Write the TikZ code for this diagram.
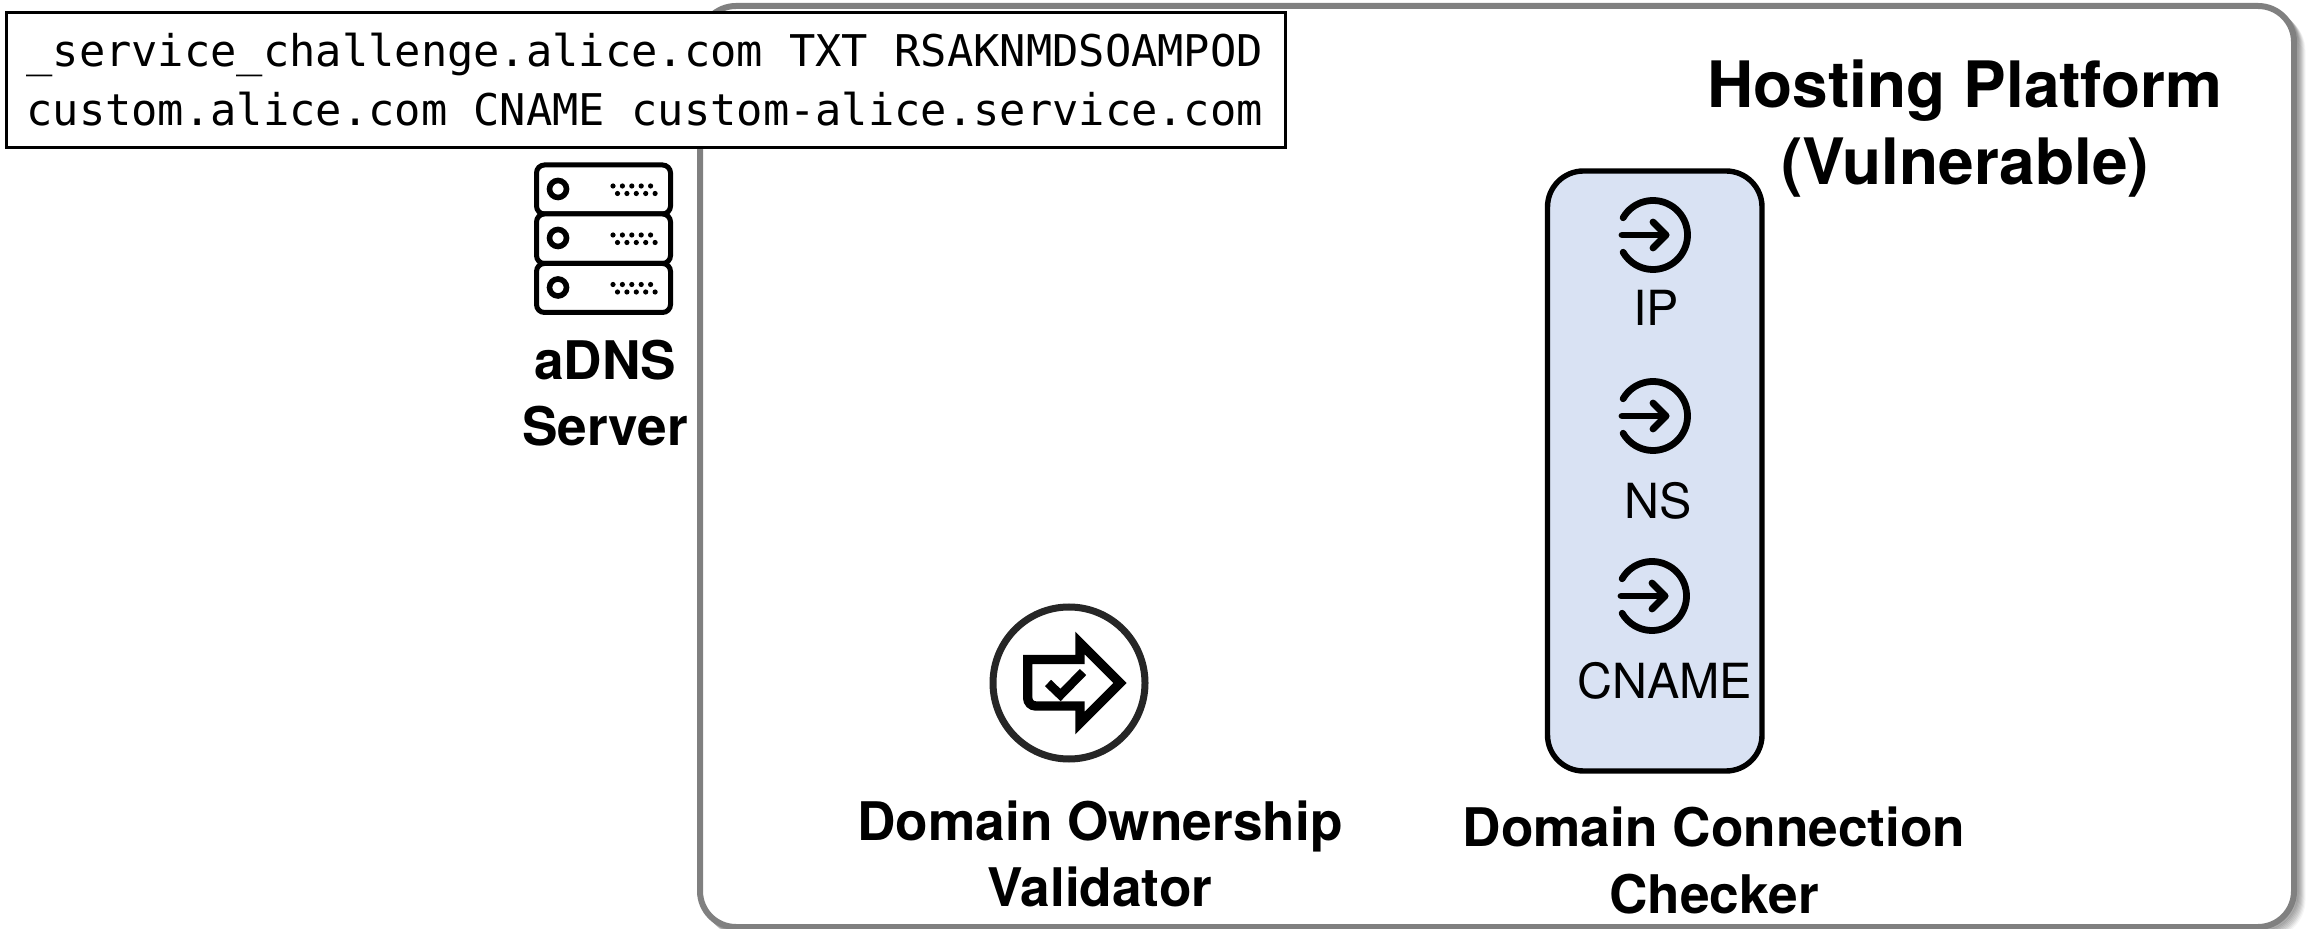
\documentclass[tikz,border=0pt]{standalone}
\usepackage{fontspec}
\setmainfont{TeX Gyre Heros}
\newfontfamily\codefont{DejaVu Sans Mono}
\definecolor{platformgray}{HTML}{808080}
\definecolor{checkerblue}{HTML}{D9E2F3}
\definecolor{ringgray}{HTML}{262626}
\tikzset{
  titletext/.style={font=\bfseries\fontsize{32}{32}\selectfont, inner sep=0pt, anchor=center},
  labeltext/.style={font=\bfseries\fontsize{26.6}{26.6}\selectfont, inner sep=0pt, anchor=center},
  kindtext/.style={font=\fontsize{24.2}{24.2}\selectfont, inner sep=0pt, anchor=center},
  codetext/.style={font=\codefont\fontsize{21.85}{21.85}\selectfont, inner sep=0pt, anchor=base west},
  iconline/.style={draw=black, line width=3.4pt, line cap=round, line join=round},
  rack/.style={draw=black, fill=white, line width=2.5pt, rounded corners=4pt},
}
\newcommand{\entryicon}[2]{%
  \draw[iconline] ({#1+34.5*cos(150)},{#2-34.5*sin(150)}) arc[start angle=-150, end angle=150, radius=34.5];
  \draw[iconline] (#1-31,#2) -- (#1+13,#2);
  \draw[iconline] (#1,#2-13) -- (#1+13,#2) -- (#1,#2+13);
}
\newcommand{\rackunit}[2]{%
  \draw[rack] (536.5,#1) rectangle (670.5,#2);
  \draw[draw=black, line width=2.8pt] (558,{#1+24}) circle[radius=8.5];
  \foreach \k in {0,...,4} {
    \fill ({613+9.4*\k},{#1+21}) circle[radius=2.6];
    \fill ({617.5+9.4*\k},{#1+28.5}) circle[radius=2.6];
  }
}
\begin{document}
\begin{tikzpicture}[x=0.5pt,y=-0.5pt]
\useasboundingbox (0,0) rectangle (2306,929);
% platform panel with soft shadow
\foreach \s/\o in {9/0.07,8/0.1,7/0.13,6/0.16,5/0.2,4/0.25,3/0.3,2/0.35} {
  \draw[platformgray, opacity=\o, line width=2.5pt, rounded corners=18pt] (700+\s,6+\s) rectangle (2294+\s,927+\s);
}
\node[draw=platformgray, fill=white, line width=3pt, rounded corners=18pt, inner sep=0pt, outer sep=0pt, minimum width=797pt, minimum height=460.5pt, anchor=north west] (platform) at (700,6) {};
% code box
\node[draw=black, fill=white, line width=1.5pt, inner sep=0pt, outer sep=0pt, minimum width=639.5pt, minimum height=67.5pt, anchor=north west] (records) at (6,12.5) {};
\node[codetext] (rec1) at (26,67) {\_service\_challenge.alice.com TXT RSAKNMDSOAMPOD};
\node[codetext] (rec2) at (26,126) {custom.alice.com CNAME custom-alice.service.com};
% title
\node[titletext] (title1) at (1965,91) {Hosting Platform};
\node[titletext] (title2) at (1965,168) {(Vulnerable)};
% aDNS server
\rackunit{165}{214}
\rackunit{214}{263.5}
\rackunit{263.5}{312.5}
\node[labeltext] (adns1) at (605,360) {aDNS};
\node[labeltext] (adns2) at (605,426) {Server};
% checker column
\node[draw=black, fill=checkerblue, line width=2.7pt, rounded corners=18pt, inner sep=0pt, outer sep=0pt, minimum width=107.25pt, minimum height=300pt, anchor=north west] (checker) at (1547.5,171) {};
\entryicon{1653}{235}
\entryicon{1653}{416}
\entryicon{1652}{596}
\node[kindtext] (ip) at (1656,308) {IP};
\node[kindtext] (ns) at (1658.5,501) {NS};
\node[kindtext] (cname) at (1665,681) {CNAME};
\node[labeltext] (dcc1) at (1714,827) {Domain Connection};
\node[labeltext] (dcc2) at (1714,894) {Checker};
% validator
\node[draw=ringgray, fill=white, line width=3.5pt, circle, inner sep=0pt, outer sep=0pt, minimum size=76pt] (ring) at (1069,683) {};
\draw[black, line width=4.7pt, line join=miter, rounded corners=0pt] (1080,659.5) -- (1027.7,659.5) [rounded corners=4pt] -- (1027.7,706) [rounded corners=0pt] -- (1080,706) -- (1080,723) -- (1120,683) -- (1080,643) -- cycle;
\draw[black, line width=4.4pt, line join=miter] (1048,683) -- (1060.5,695) -- (1083,672);
\node[labeltext] (dov1) at (1100,826) {Domain Ownership};
\node[labeltext] (dov2) at (1100,887) {Validator};
\end{tikzpicture}
\end{document}
